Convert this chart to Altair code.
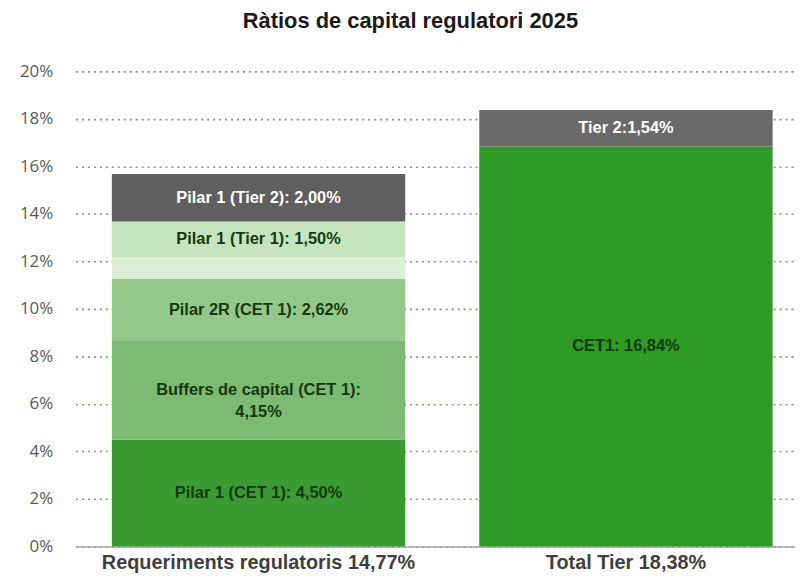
import altair as alt
import pandas as pd

# ---- data ----
bars = ["Requeriments regulatoris 14,77%"] * 6 + ["Total Tier 18,38%"] * 2
segments = ["Pilar 1 (CET 1)", "Buffers de capital (CET 1)", "Pilar 2R (CET 1)", "Altres",
            "Pilar 1 (Tier 1)", "Pilar 1 (Tier 2)", "CET1", "Tier 2"]
values = [4.50, 4.15, 2.62, 0.91, 1.50, 2.00, 16.84, 1.54]
labels = ["Pilar 1 (CET 1): 4,50%", "Buffers de capital (CET 1):\n4,15%", "Pilar 2R (CET 1): 2,62%", "",
          "Pilar 1 (Tier 1): 1,50%", "Pilar 1 (Tier 2): 2,00%", "CET1: 16,84%", "Tier 2:1,54%"]
colors = ["#3b9b33", "#7dba73", "#94c98b", "#dcefd6", "#c6e5bf", "#5f5f5f", "#2f9a25", "#6a6a6a"]
text_colors = ["#143a10", "#143a10", "#143a10", "#143a10", "#143a10", "#ffffff", "#143a10", "#ffffff"]
categories = ["Requeriments regulatoris 14,77%", "Total Tier 18,38%"]
y_ticks = [0, 2, 4, 6, 8, 10, 12, 14, 16, 18, 20]

df = pd.DataFrame({"bar": bars, "seg": segments, "value": values, "label": labels,
                   "tcolor": text_colors})
df["order"] = range(len(df))
df["end"] = df.groupby("bar")["value"].cumsum()
df["start"] = df["end"] - df["value"]
df["mid"] = (df["start"] + df["end"]) / 2

x_scale = alt.Scale(domain=categories, range=[0, 738], paddingInner=0.2016, paddingOuter=0.0988)
x_enc = alt.X("bar:N", sort=categories, title=None, scale=x_scale,
              axis=alt.Axis(labelAngle=0, labelFont="Liberation Sans", labelFontWeight="bold",
                            labelFontSize=20, labelColor="#3f3f3f", labelPadding=6, labelLimit=0,
                            ticks=False, domain=True, domainColor="#a6a6a6", domainWidth=1.5,
                            grid=False))
y_scale = alt.Scale(domain=[0, 20], nice=False)

bars_layer = alt.Chart(df).mark_bar().encode(
    x=x_enc,
    y=alt.Y("start:Q", scale=y_scale, title=None,
            axis=alt.Axis(values=y_ticks, labelExpr="datum.value + '%'", labelFont="Open Sans",
                          labelFontSize=17, labelColor="#595959", labelPadding=23, ticks=False,
                          domain=False, grid=True, gridColor="#7f9f6f", gridDash=[2, 4],
                          gridWidth=1.6)),
    y2="end:Q",
    color=alt.Color("seg:N", scale=alt.Scale(domain=segments, range=colors), legend=None),
)

text_layer = alt.Chart(df).mark_text(font="Liberation Sans", fontWeight="bold", fontSize=16.5,
                                     lineBreak="\n", lineHeight=22, baseline="middle").encode(
    x=alt.X("bar:N", sort=categories, scale=x_scale),
    y=alt.Y("mid:Q", scale=y_scale),
    text="label:N",
    color=alt.Color("tcolor:N", scale=None),
)

chart = alt.layer(bars_layer, text_layer).properties(
    width=724, height=478,
    title=alt.TitleParams("Ràtios de capital regulatori 2025", font="Liberation Sans", fontSize=22,
                          fontWeight="bold", color="#1a1a1a", anchor="middle", dx=-25, offset=30),
    autosize=alt.AutoSizeParams(type="none"),
    padding={"left": 68, "top": 62, "right": 0, "bottom": 30},
).configure_view(stroke=None)

chart.save("out.html", embed_options={"renderer": "svg", "actions": False})
